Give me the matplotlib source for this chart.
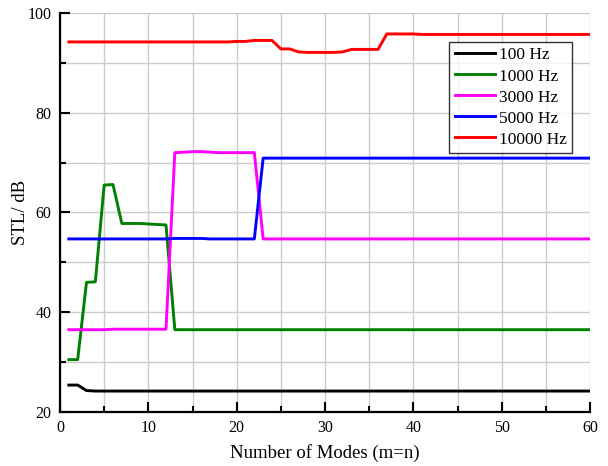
import numpy as np
import matplotlib
matplotlib.use("Agg")
import matplotlib.pyplot as plt
from matplotlib.ticker import MultipleLocator

plt.rcParams['font.family'] = ['Liberation Serif', 'DejaVu Serif']

modes = np.arange(1, 61)

stl_100 = [25.4, 25.4, 24.3] + [24.2] * 57

stl_1000 = ([30.5, 30.5, 46.0, 46.1, 65.5, 65.6, 57.8, 57.8, 57.8, 57.7, 57.6, 57.5]
            + [36.5] * 48)

stl_3000 = ([36.5, 36.5, 36.5, 36.5, 36.5, 36.6, 36.6, 36.6, 36.6, 36.6, 36.6, 36.6]
            + [72.0, 72.1, 72.2, 72.2, 72.1, 72.0, 72.0, 72.0, 72.0, 72.0]
            + [54.7] * 38)

stl_5000 = ([54.7] * 12 + [54.8, 54.8, 54.8, 54.8, 54.7, 54.7, 54.7, 54.7, 54.7, 54.7]
            + [70.9] * 38)

stl_10000 = ([94.2] * 18 + [94.2, 94.3, 94.3, 94.5, 94.5, 94.5]
             + [92.8, 92.8, 92.2, 92.1, 92.1, 92.1, 92.1, 92.2]
             + [92.7, 92.7, 92.7, 92.7]
             + [95.8, 95.8, 95.8, 95.8, 95.7, 95.7, 95.7, 95.7, 95.7, 95.7,
                95.7, 95.7, 95.7, 95.7, 95.7, 95.7, 95.7, 95.7, 95.7, 95.7,
                95.7, 95.7, 95.7, 95.7])

series = [
    ("100 Hz", stl_100, "black"),
    ("1000 Hz", stl_1000, "green"),
    ("3000 Hz", stl_3000, "magenta"),
    ("5000 Hz", stl_5000, "blue"),
    ("10000 Hz", stl_10000, "red"),
]

fig = plt.figure(figsize=(6.08, 4.66), dpi=100)
ax = fig.add_axes([60 / 608, 54 / 466, 530 / 608, 399 / 466])

for label, vals, color in series:
    ax.plot(modes, vals, color=color, lw=2.1, label=label)

ax.set_xlim(0, 60)
ax.set_ylim(20, 100)
ax.xaxis.set_major_locator(MultipleLocator(10))
ax.xaxis.set_minor_locator(MultipleLocator(5))
ax.yaxis.set_major_locator(MultipleLocator(20))
ax.yaxis.set_minor_locator(MultipleLocator(10))

ax.grid(which='both', color='#cccccc', lw=1.0)
ax.set_axisbelow(True)

for s in ('top', 'right'):
    ax.spines[s].set_visible(False)
for s in ('left', 'bottom'):
    ax.spines[s].set_linewidth(1.6)

ax.tick_params(which='major', direction='in', length=7, width=1.5, labelsize=11.5, pad=6)
ax.tick_params(which='minor', direction='in', length=4, width=1.5)

ax.set_xlabel("Number of Modes (m=n)", fontsize=13.5)
ax.set_ylabel("STL/ dB", fontsize=13.5)
ax.xaxis.set_label_coords(0.5, -0.081)
ax.yaxis.set_label_coords(-0.058, 0.5)

leg = ax.legend(loc='upper right', bbox_to_anchor=(0.966, 0.927), fontsize=12.5,
                frameon=True, fancybox=False, edgecolor='black',
                handlelength=2.3, handletextpad=0.25, labelspacing=0.28,
                borderpad=0.3, borderaxespad=0)
leg.get_frame().set_linewidth(1.0)

fig.savefig("out.png", dpi=100)
